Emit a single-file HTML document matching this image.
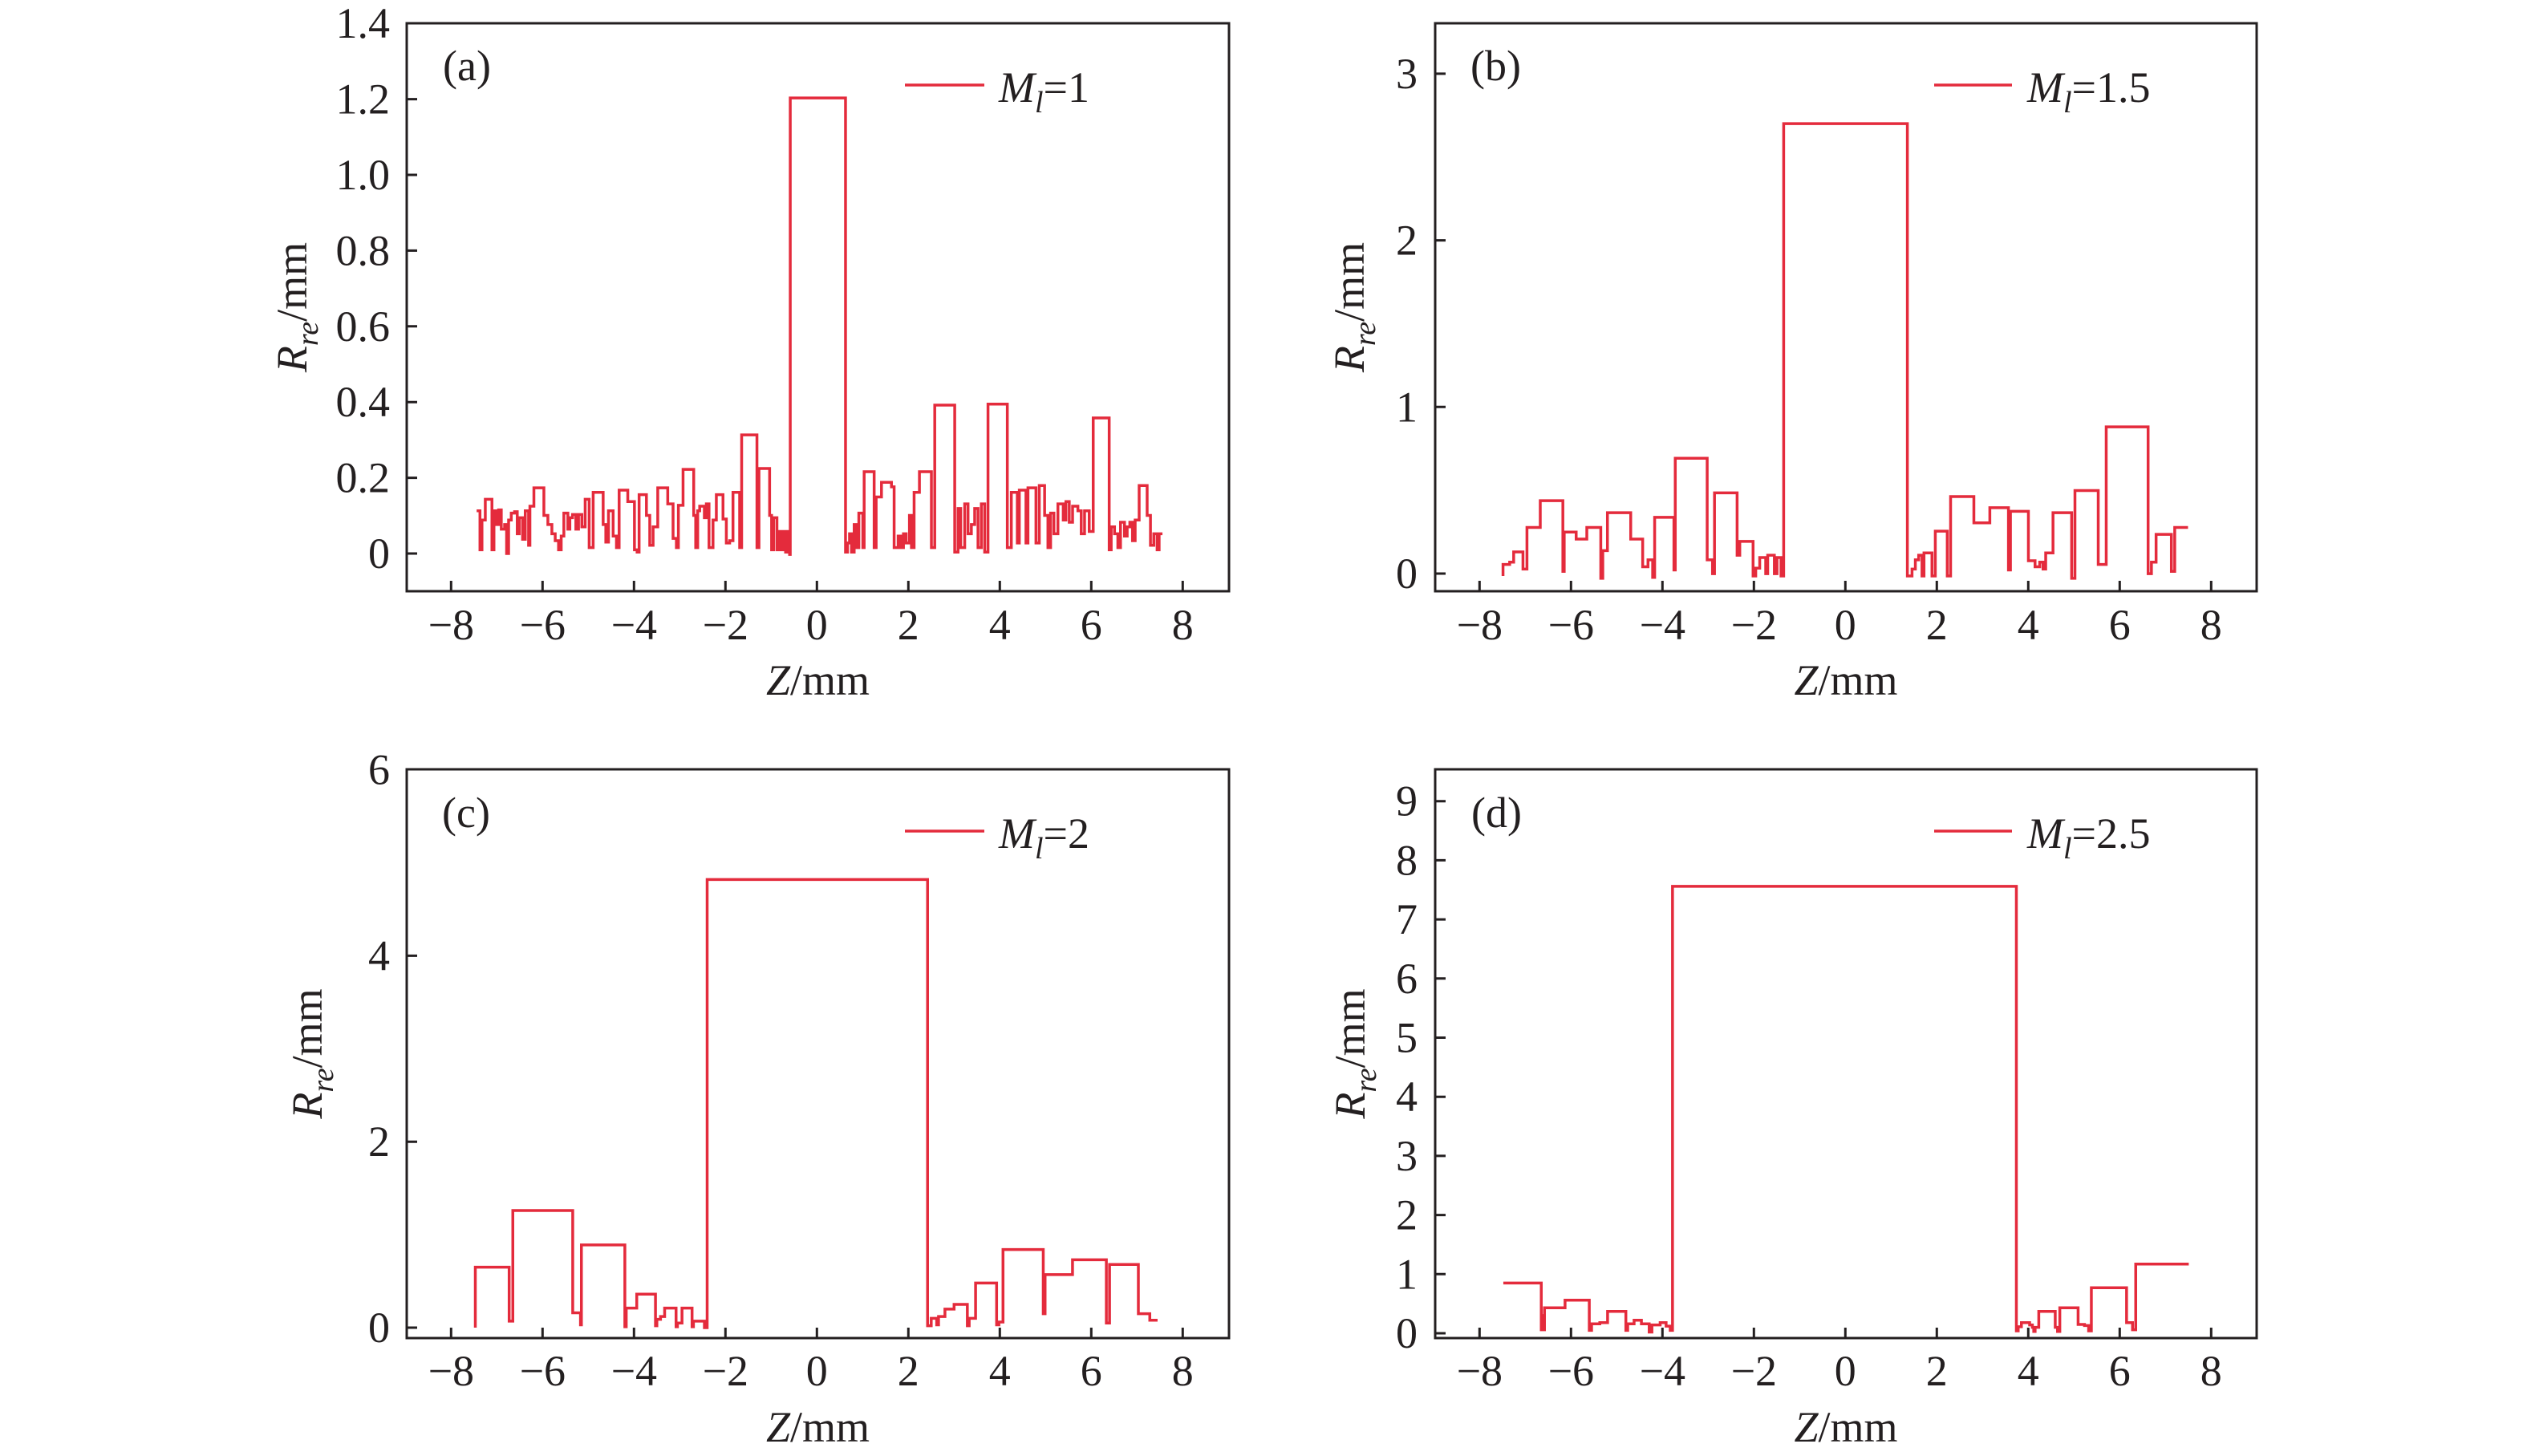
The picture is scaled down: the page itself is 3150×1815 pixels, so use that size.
<!DOCTYPE html>
<html>
<head>
<meta charset="utf-8">
<style>
html,body{margin:0;padding:0;background:#fff;}
svg{display:block;}
text{font-family:"Liberation Serif","Times New Roman",serif;fill:#231f20;}
</style>
</head>
<body>
<svg width="3150" height="1815" viewBox="0 0 3150 1815" xmlns="http://www.w3.org/2000/svg">
<rect x="0" y="0" width="3150" height="1815" fill="#fff"/>

<!-- ================= Panel (a) ================= -->
<g stroke="#231f20" stroke-width="3" fill="none">
  <rect x="507" y="29" width="1025" height="708"/>
  <path d="M562.3 737v-13M676.3 737v-13M790.3 737v-13M904.3 737v-13M1018.3 737v-13M1132.3 737v-13M1246.3 737v-13M1360.3 737v-13M1474.3 737v-13"/>
  <path d="M507 690h13M507 595.6h13M507 501.2h13M507 406.8h13M507 312.4h13M507 218h13M507 123.6h13"/>
</g>
<g font-size="54" text-anchor="end">
  <text x="486" y="708">0</text>
  <text x="486" y="613.6">0.2</text>
  <text x="486" y="519.2">0.4</text>
  <text x="486" y="424.8">0.6</text>
  <text x="486" y="330.4">0.8</text>
  <text x="486" y="236">1.0</text>
  <text x="486" y="141.6">1.2</text>
  <text x="486" y="47">1.4</text>
</g>
<g font-size="54" text-anchor="middle">
  <text x="562.3" y="797">−8</text>
  <text x="676.3" y="797">−6</text>
  <text x="790.3" y="797">−4</text>
  <text x="904.3" y="797">−2</text>
  <text x="1018.3" y="797">0</text>
  <text x="1132.3" y="797">2</text>
  <text x="1246.3" y="797">4</text>
  <text x="1360.3" y="797">6</text>
  <text x="1474.3" y="797">8</text>
</g>
<text x="1019.5" y="866" font-size="54" text-anchor="middle"><tspan font-style="italic">Z</tspan>/mm</text>
<text transform="translate(382,383) rotate(-90)" font-size="54" text-anchor="middle"><tspan font-style="italic">R</tspan><tspan font-style="italic" font-size="38" dy="14">re</tspan><tspan dy="-14">/mm</tspan></text>
<text x="552" y="100" font-size="54">(a)</text>
<line x1="1128" y1="106" x2="1227" y2="106" stroke="#e42b3c" stroke-width="3.5"/>
<text x="1245" y="127" font-size="54"><tspan font-style="italic">M</tspan><tspan font-style="italic" font-size="38" dy="13">l</tspan><tspan dy="-13">=1</tspan></text>
<g transform="translate(299.5,0.7) scale(0.83,0.573)">
<path vector-effect="non-scaling-stroke" fill="none" stroke="#e42b3c" stroke-width="3.5" d="M355 1110 H360 V1195 H363 V1130 H368 V1085 H378 V1195 H381 V1110 H385 V1140 H388 V1108 H392 V1150 H397 V1140 H400 V1203 H403 V1130 H407 V1115 H412 V1112 H416 V1160 H419 V1125 H424 V1172 H428 V1110 H433 V1185 H435 V1100 H441 V1060 H456 V1120 H462 V1140 H468 V1160 H473 V1175 H478 V1195 H482 V1165 H486 V1115 H492 V1150 H495 V1125 H499 V1118 H504 V1150 H508 V1118 H513 V1145 H518 V1085 H524 V1190 H530 V1070 H545 V1140 H549 V1178 H553 V1110 H560 V1165 H565 V1190 H569 V1065 H582 V1090 H592 V1195 H596 V1200 H599 V1075 H610 V1120 H615 V1185 H620 V1145 H627 V1060 H642 V1095 H650 V1170 H655 V1190 H658 V1098 H665 V1020 H681 V1120 H684 V1190 H687 V1110 H690 V1100 H697 V1125 H700 V1095 H704 V1190 H710 V1130 H715 V1075 H725 V1128 H730 V1180 H735 V1175 H740 V1070 H750 V1190 H753 V945 H776 V1190 H779 V1018 H795 V1120 H798 V1195 H801 V1125 H806 V1195 H810 V1155 H813 V1195 H816 V1155 H819 V1200 H822 V1155 H825 V1205 H826 V212 H909 V1200 H912 V1180 H915 V1160 H918 V1200 H922 V1140 H926 V1190 H929 V1115 H935 V1190 H937 V1025 H952 V1190 H955 V1080 H963 V1048 H978 V1058 H982 V1190 H988 V1165 H992 V1190 H996 V1160 H1000 V1180 H1005 V1120 H1008 V1190 H1012 V1070 H1020 V1025 H1038 V1190 H1043 V880 H1073 V1200 H1078 V1105 H1082 V1190 H1088 V1095 H1093 V1160 H1098 V1140 H1103 V1105 H1108 V1190 H1113 V1095 H1118 V1200 H1123 V878 H1152 V1190 H1158 V1070 H1167 V1180 H1170 V1065 H1180 V1180 H1183 V1060 H1195 V1180 H1200 V1055 H1208 V1120 H1213 V1190 H1217 V1115 H1222 V1160 H1228 V1095 H1236 V1130 H1240 V1090 H1245 V1135 H1250 V1100 H1258 V1110 H1263 V1160 H1268 V1110 H1275 V1155 H1281 V908 H1305 V1195 H1308 V1145 H1313 V1160 H1318 V1190 H1322 V1135 H1328 V1165 H1332 V1145 H1336 V1135 H1340 V1175 H1344 V1130 H1350 V1055 H1362 V1120 H1367 V1185 H1372 V1160 H1377 V1195 H1380 V1160 H1385"/>
</g>

<!-- ================= Panel (b) ================= -->
<g stroke="#231f20" stroke-width="3" fill="none">
  <rect x="1789" y="29" width="1024" height="708"/>
  <path d="M1844.3 737v-13M1958.3 737v-13M2072.3 737v-13M2186.3 737v-13M2300.3 737v-13M2414.3 737v-13M2528.3 737v-13M2642.3 737v-13M2756.3 737v-13"/>
  <path d="M1789 715h13M1789 507.3h13M1789 299.6h13M1789 91.9h13"/>
</g>
<g font-size="54" text-anchor="end">
  <text x="1767" y="733">0</text>
  <text x="1767" y="525.3">1</text>
  <text x="1767" y="317.6">2</text>
  <text x="1767" y="109.9">3</text>
</g>
<g font-size="54" text-anchor="middle">
  <text x="1844.3" y="797">−8</text>
  <text x="1958.3" y="797">−6</text>
  <text x="2072.3" y="797">−4</text>
  <text x="2186.3" y="797">−2</text>
  <text x="2300.3" y="797">0</text>
  <text x="2414.3" y="797">2</text>
  <text x="2528.3" y="797">4</text>
  <text x="2642.3" y="797">6</text>
  <text x="2756.3" y="797">8</text>
</g>
<text x="2301" y="866" font-size="54" text-anchor="middle"><tspan font-style="italic">Z</tspan>/mm</text>
<text transform="translate(1700,383) rotate(-90)" font-size="54" text-anchor="middle"><tspan font-style="italic">R</tspan><tspan font-style="italic" font-size="38" dy="14">re</tspan><tspan dy="-14">/mm</tspan></text>
<text x="1833" y="100" font-size="54">(b)</text>
<line x1="2411" y1="106" x2="2508" y2="106" stroke="#e42b3c" stroke-width="3.5"/>
<text x="2527" y="127" font-size="54"><tspan font-style="italic">M</tspan><tspan font-style="italic" font-size="38" dy="13">l</tspan><tspan dy="-13">=1.5</tspan></text>
<g transform="translate(1600,1.6) scale(0.829,0.5754)">
<path vector-effect="non-scaling-stroke" fill="none" stroke="#e42b3c" stroke-width="3.5" d="M330 1245 V1220 H340 V1215 H346 V1193 H360 V1230 H366 V1140 H386 V1082 H420 V1235 H422 V1150 H440 V1165 H456 V1140 H477 V1250 H480 V1190 H487 V1108 H522 V1165 H540 V1225 H548 V1210 H555 V1248 H558 V1118 H587 V1232 H589 V990 H637 V1210 H645 V1240 H648 V1065 H682 V1200 H686 V1170 H706 V1245 H710 V1228 H716 V1205 H725 V1240 H728 V1200 H738 V1240 H742 V1205 H748 V1245 H752 V265 H938 V1245 H945 V1230 H950 V1210 H955 V1200 H960 V1245 H963 V1195 H975 V1245 H980 V1148 H998 V1245 H1003 V1073 H1038 V1130 H1062 V1097 H1090 V1232 H1093 V1105 H1120 V1212 H1130 V1225 H1137 V1215 H1142 V1230 H1146 V1195 H1157 V1108 H1185 V1250 H1190 V1060 H1225 V1220 H1237 V922 H1300 V1240 H1305 V1215 H1312 V1155 H1335 V1235 H1340 V1140 H1360"/>
</g>

<!-- ================= Panel (c) ================= -->
<g stroke="#231f20" stroke-width="3" fill="none">
  <rect x="507" y="959" width="1025" height="709"/>
  <path d="M562.3 1668v-13M676.3 1668v-13M790.3 1668v-13M904.3 1668v-13M1018.3 1668v-13M1132.3 1668v-13M1246.3 1668v-13M1360.3 1668v-13M1474.3 1668v-13"/>
  <path d="M507 1655h13M507 1423.2h13M507 1191.4h13"/>
</g>
<g font-size="54" text-anchor="end">
  <text x="486" y="1673">0</text>
  <text x="486" y="1441.2">2</text>
  <text x="486" y="1209.4">4</text>
  <text x="486" y="977.6">6</text>
</g>
<g font-size="54" text-anchor="middle">
  <text x="562.3" y="1727">−8</text>
  <text x="676.3" y="1727">−6</text>
  <text x="790.3" y="1727">−4</text>
  <text x="904.3" y="1727">−2</text>
  <text x="1018.3" y="1727">0</text>
  <text x="1132.3" y="1727">2</text>
  <text x="1246.3" y="1727">4</text>
  <text x="1360.3" y="1727">6</text>
  <text x="1474.3" y="1727">8</text>
</g>
<text x="1019.5" y="1797" font-size="54" text-anchor="middle"><tspan font-style="italic">Z</tspan>/mm</text>
<text transform="translate(401,1313.5) rotate(-90)" font-size="54" text-anchor="middle"><tspan font-style="italic">R</tspan><tspan font-style="italic" font-size="38" dy="14">re</tspan><tspan dy="-14">/mm</tspan></text>
<text x="551" y="1031" font-size="54">(c)</text>
<line x1="1128" y1="1036" x2="1227" y2="1036" stroke="#e42b3c" stroke-width="3.5"/>
<text x="1245" y="1057" font-size="54"><tspan font-style="italic">M</tspan><tspan font-style="italic" font-size="38" dy="13">l</tspan><tspan dy="-13">=2</tspan></text>
<g transform="translate(1018.3,1655) scale(57,-115.9)">
<path vector-effect="non-scaling-stroke" fill="none" stroke="#e42b3c" stroke-width="3.5" d="M-7.47 0 V0.65 H-6.73 V0.07 H-6.65 V1.26 H-5.34 V0.16 H-5.17 V0.03 H-5.15 V0.89 H-4.2 V0.01 H-4.17 V0.21 H-3.94 V0.36 H-3.53 V0.02 H-3.5 V0.09 H-3.42 V0.12 H-3.33 V0.21 H-3.08 V0.01 H-3.05 V0.05 H-2.95 V0.21 H-2.73 V0.01 H-2.7 V0.07 H-2.46 V0 H-2.40 V4.82 H2.42 V0.02 H2.5 V0.1 H2.62 V0.03 H2.66 V0.12 H2.8 V0.2 H3.0 V0.25 H3.29 V0.02 H3.33 V0.1 H3.47 V0.48 H3.93 V0.03 H3.98 V0.06 H4.07 V0.84 H4.95 V0.15 H4.99 V0.57 H5.59 V0.73 H6.33 V0.05 H6.40 V0.68 H7.03 V0.15 H7.28 V0.08 H7.45"/>
</g>

<!-- ================= Panel (d) ================= -->
<g stroke="#231f20" stroke-width="3" fill="none">
  <rect x="1789" y="959" width="1024" height="709"/>
  <path d="M1844.3 1668v-13M1958.3 1668v-13M2072.3 1668v-13M2186.3 1668v-13M2300.3 1668v-13M2414.3 1668v-13M2528.3 1668v-13M2642.3 1668v-13M2756.3 1668v-13"/>
  <path d="M1789 1662h13M1789 1588.3h13M1789 1514.6h13M1789 1440.9h13M1789 1367.2h13M1789 1293.5h13M1789 1219.8h13M1789 1146.1h13M1789 1072.4h13M1789 998.7h13"/>
</g>
<g font-size="54" text-anchor="end">
  <text x="1767" y="1680">0</text>
  <text x="1767" y="1606.3">1</text>
  <text x="1767" y="1532.6">2</text>
  <text x="1767" y="1458.9">3</text>
  <text x="1767" y="1385.2">4</text>
  <text x="1767" y="1311.5">5</text>
  <text x="1767" y="1237.8">6</text>
  <text x="1767" y="1164.1">7</text>
  <text x="1767" y="1090.4">8</text>
  <text x="1767" y="1016.7">9</text>
</g>
<g font-size="54" text-anchor="middle">
  <text x="1844.3" y="1727">−8</text>
  <text x="1958.3" y="1727">−6</text>
  <text x="2072.3" y="1727">−4</text>
  <text x="2186.3" y="1727">−2</text>
  <text x="2300.3" y="1727">0</text>
  <text x="2414.3" y="1727">2</text>
  <text x="2528.3" y="1727">4</text>
  <text x="2642.3" y="1727">6</text>
  <text x="2756.3" y="1727">8</text>
</g>
<text x="2301" y="1797" font-size="54" text-anchor="middle"><tspan font-style="italic">Z</tspan>/mm</text>
<text transform="translate(1701,1313.5) rotate(-90)" font-size="54" text-anchor="middle"><tspan font-style="italic">R</tspan><tspan font-style="italic" font-size="38" dy="14">re</tspan><tspan dy="-14">/mm</tspan></text>
<text x="1834" y="1031" font-size="54">(d)</text>
<line x1="2411" y1="1036" x2="2508" y2="1036" stroke="#e42b3c" stroke-width="3.5"/>
<text x="2527" y="1057" font-size="54"><tspan font-style="italic">M</tspan><tspan font-style="italic" font-size="38" dy="13">l</tspan><tspan dy="-13">=2.5</tspan></text>
<g transform="translate(2300.3,1662) scale(57,-73.7)">
<path vector-effect="non-scaling-stroke" fill="none" stroke="#e42b3c" stroke-width="3.5" d="M-7.48 0.85 H-6.65 V0.06 H-6.62 V0.3 H-6.6 V0.06 H-6.58 V0.43 H-6.13 V0.56 H-5.60 V0.05 H-5.55 V0.16 H-5.37 V0.18 H-5.20 V0.37 H-4.80 V0.05 H-4.76 V0.16 H-4.62 V0.22 H-4.46 V0.16 H-4.29 V0.02 H-4.23 V0.14 H-4.05 V0.18 H-3.92 V0.12 H-3.83 V0.05 H-3.78 V7.56 H3.74 V0.04 H3.78 V0.11 H3.85 V0.18 H4.03 V0.14 H4.09 V0.1 H4.12 V0.03 H4.15 V0.1 H4.23 V0.37 H4.59 V0.1 H4.64 V0.03 H4.69 V0.43 H5.09 V0.15 H5.23 V0.13 H5.32 V0.04 H5.38 V0.77 H6.15 V0.18 H6.28 V0.06 H6.35 V1.17 H7.51"/>
</g>
</svg>
</body>
</html>
